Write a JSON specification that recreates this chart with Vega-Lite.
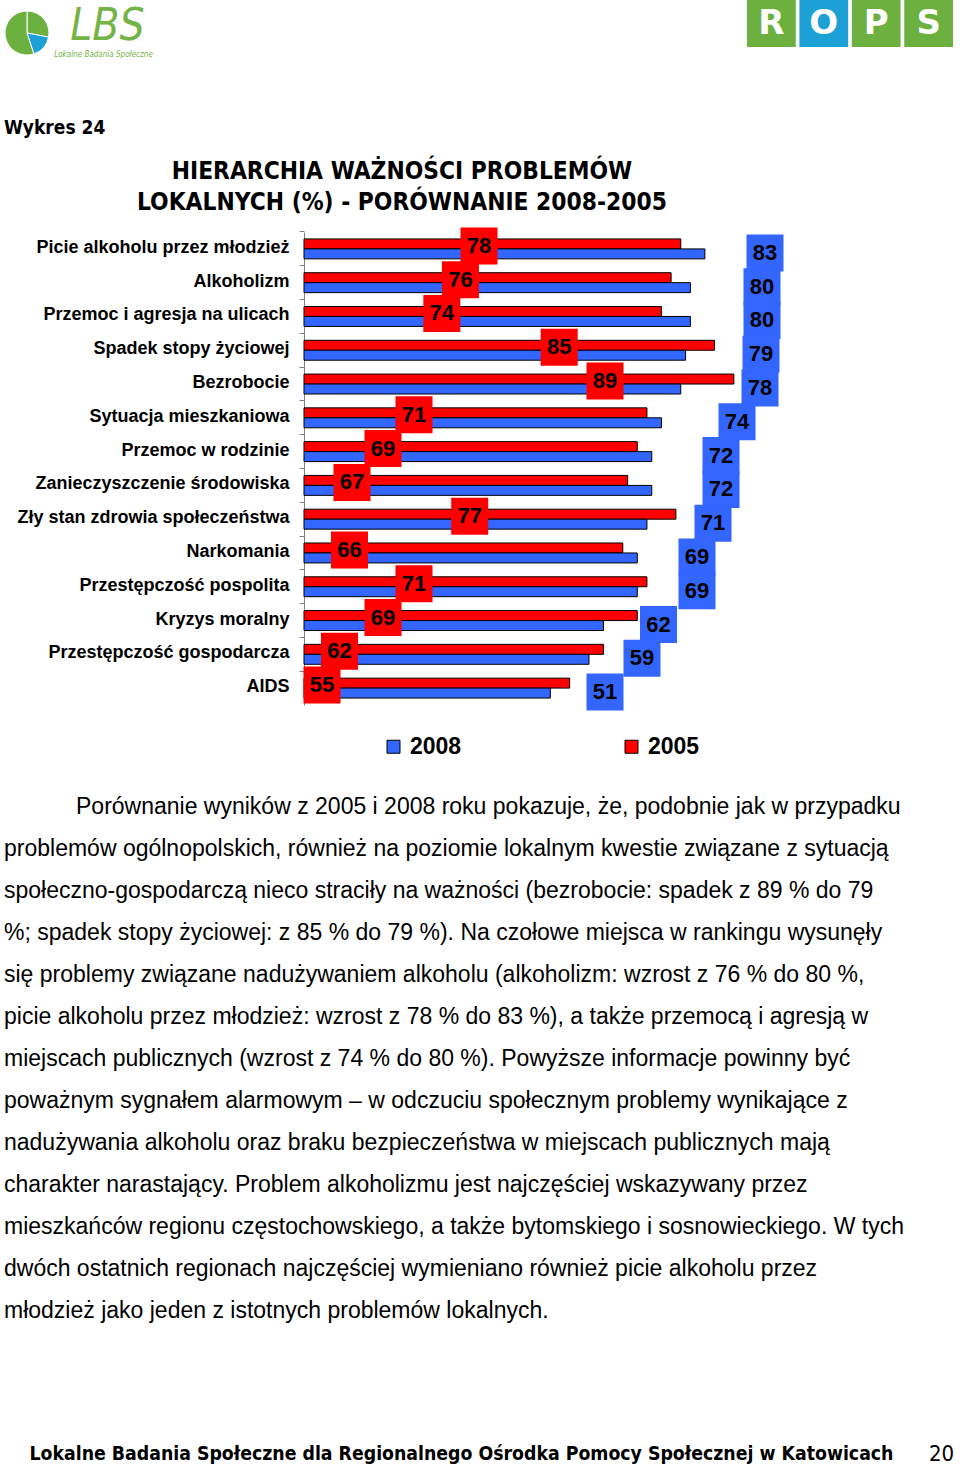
{
  "$schema": "https://vega.github.io/schema/vega-lite/v6.json",
  "padding": 0,
  "background": "white",
  "config": {"view": {"stroke": null}, "font": "Liberation Sans", "title": {"color": "black"}},
  "resolve": {"scale": {"color": "independent"}, "legend": {"color": "independent"}},
  "datasets": {
    "problems": [
      {"problem": "Picie alkoholu przez młodzież", "year": "2005", "value": 78},
      {"problem": "Picie alkoholu przez młodzież", "year": "2008", "value": 83},
      {"problem": "Alkoholizm", "year": "2005", "value": 76},
      {"problem": "Alkoholizm", "year": "2008", "value": 80},
      {"problem": "Przemoc i agresja na ulicach", "year": "2005", "value": 74},
      {"problem": "Przemoc i agresja na ulicach", "year": "2008", "value": 80},
      {"problem": "Spadek stopy życiowej", "year": "2005", "value": 85},
      {"problem": "Spadek stopy życiowej", "year": "2008", "value": 79},
      {"problem": "Bezrobocie", "year": "2005", "value": 89},
      {"problem": "Bezrobocie", "year": "2008", "value": 78},
      {"problem": "Sytuacja mieszkaniowa", "year": "2005", "value": 71},
      {"problem": "Sytuacja mieszkaniowa", "year": "2008", "value": 74},
      {"problem": "Przemoc w rodzinie", "year": "2005", "value": 69},
      {"problem": "Przemoc w rodzinie", "year": "2008", "value": 72},
      {"problem": "Zanieczyszczenie środowiska", "year": "2005", "value": 67},
      {"problem": "Zanieczyszczenie środowiska", "year": "2008", "value": 72},
      {"problem": "Zły stan zdrowia społeczeństwa", "year": "2005", "value": 77},
      {"problem": "Zły stan zdrowia społeczeństwa", "year": "2008", "value": 71},
      {"problem": "Narkomania", "year": "2005", "value": 66},
      {"problem": "Narkomania", "year": "2008", "value": 69},
      {"problem": "Przestępczość pospolita", "year": "2005", "value": 71},
      {"problem": "Przestępczość pospolita", "year": "2008", "value": 69},
      {"problem": "Kryzys moralny", "year": "2005", "value": 69},
      {"problem": "Kryzys moralny", "year": "2008", "value": 62},
      {"problem": "Przestępczość gospodarcza", "year": "2005", "value": 62},
      {"problem": "Przestępczość gospodarcza", "year": "2008", "value": 59},
      {"problem": "AIDS", "year": "2005", "value": 55},
      {"problem": "AIDS", "year": "2008", "value": 51}
    ],
    "para": [
      {"line": 1, "text": "Porównanie wyników z 2005 i 2008 roku pokazuje, że, podobnie jak w przypadku"},
      {"line": 2, "text": "problemów ogólnopolskich, również na poziomie lokalnym kwestie związane z sytuacją"},
      {"line": 3, "text": "społeczno-gospodarczą nieco straciły na ważności (bezrobocie: spadek z 89 % do 79"},
      {"line": 4, "text": "%; spadek stopy życiowej: z 85 % do 79 %). Na czołowe miejsca w rankingu wysunęły"},
      {"line": 5, "text": "się problemy związane nadużywaniem alkoholu (alkoholizm: wzrost z 76 % do 80 %,"},
      {"line": 6, "text": "picie alkoholu przez młodzież: wzrost z 78 % do 83 %), a także przemocą i agresją w"},
      {"line": 7, "text": "miejscach publicznych (wzrost z 74 % do 80 %). Powyższe informacje powinny być"},
      {"line": 8, "text": "poważnym sygnałem alarmowym – w odczuciu społecznym problemy wynikające z"},
      {"line": 9, "text": "nadużywania alkoholu oraz braku bezpieczeństwa w miejscach publicznych mają"},
      {"line": 10, "text": "charakter narastający. Problem alkoholizmu jest najczęściej wskazywany przez"},
      {"line": 11, "text": "mieszkańców regionu częstochowskiego, a także bytomskiego i sosnowieckiego. W tych"},
      {"line": 12, "text": "dwóch ostatnich regionach najczęściej wymieniano również picie alkoholu przez"},
      {"line": 13, "text": "młodzież jako jeden z istotnych problemów lokalnych."}
    ]
  },
  "spacing": 53,
  "vconcat": [
    {
      "spacing": 587,
      "hconcat": [
        {
          "spacing": 0,
          "hconcat": [
            {
              "width": 54, "height": 66,
              "data": {"values": [{"part": "a", "share": 28}, {"part": "b", "share": 17}, {"part": "c", "share": 55}]},
              "mark": {"type": "arc", "outerRadius": 22, "stroke": "white", "strokeWidth": 1},
              "encoding": {
                "theta": {"field": "share", "type": "quantitative", "stack": true},
                "order": {"field": "part"},
                "color": {"field": "part", "type": "nominal", "scale": {"domain": ["a", "b", "c"], "range": ["#6CB040", "#1CA0D6", "#6CB040"]}, "legend": null}
              }
            },
            {
              "width": 105, "height": 60,
              "data": {"values": [{"t": "LBS", "s": "Lokalne Badania Społeczne"}]},
              "layer": [
                {"mark": {"type": "text", "font": "DejaVu Sans Condensed", "fontStyle": "italic", "fontSize": 44, "color": "#74B446", "dy": -3}, "encoding": {"text": {"field": "t"}}},
                {"mark": {"type": "text", "font": "DejaVu Sans Condensed", "fontStyle": "italic", "fontSize": 8, "color": "#74B446", "dy": 25, "dx": -4}, "encoding": {"text": {"field": "s"}}}
              ]
            }
          ]
        },
        {
          "width": 206, "height": 47,
          "data": {"values": [{"l": "R"}, {"l": "O"}, {"l": "P"}, {"l": "S"}]},
          "encoding": {"x": {"field": "l", "type": "nominal", "sort": null, "axis": null, "scale": {"paddingInner": 0.07, "paddingOuter": 0}}},
          "layer": [
            {"mark": {"type": "bar"}, "encoding": {"color": {"field": "l", "type": "nominal", "sort": null, "scale": {"domain": ["R", "O", "P", "S"], "range": ["#F0B400", "#7CB518", "#1B4FDF", "#262626"]}, "legend": null}}},
            {"mark": {"type": "text", "color": "white", "fontSize": 34, "fontWeight": "bold", "font": "DejaVu Sans"}, "encoding": {"text": {"field": "l"}}}
          ]
        }
      ]
    },
    {
      "spacing": 37,
      "resolve": {"scale": {"color": "independent"}, "legend": {"color": "independent"}},
      "vconcat": [
        {
          "title": {"text": "Wykres 24", "anchor": "start", "fontSize": 19, "fontWeight": "bold", "font": "DejaVu Sans Condensed", "dx": 4, "offset": 22},
          "bounds": "flush",
          "spacing": 0,
          "resolve": {"scale": {"color": "independent"}, "legend": {"color": "independent"}},
          "hconcat": [
            {"width": 304, "height": 1, "data": {"values": [{"t": ""}]}, "mark": {"type": "text"}, "encoding": {"text": {"field": "t"}}},
            {
              "width": 483, "height": 473,
              "data": {"name": "problems"},
              "title": {"text": ["HIERARCHIA WAŻNOŚCI PROBLEMÓW", "LOKALNYCH (%) - PORÓWNANIE 2008-2005"], "anchor": "middle", "frame": "bounds", "fontSize": 24.3, "font": "DejaVu Sans Condensed", "fontWeight": "bold", "lineHeight": 31, "offset": 12},
              "encoding": {
                "y": {
                  "field": "problem", "type": "nominal", "sort": null,
                  "scale": {"paddingInner": 0.41, "paddingOuter": 0.205},
                  "axis": {"title": null, "domainColor": "#808080", "tickColor": "#808080", "tickSize": 5, "labelPadding": 10, "labelFontSize": 18, "labelFontWeight": "bold", "labelColor": "black", "labelLimit": 400, "bandPosition": -0.3475, "labelOffset": -1, "labelFont": "Liberation Sans"}
                }
              },
              "layer": [
                {
                  "mark": {"type": "bar", "stroke": "black", "strokeWidth": 1},
                  "encoding": {
                    "x": {"field": "value", "type": "quantitative", "axis": null, "scale": {"domain": [0, 100], "nice": false}},
                    "yOffset": {"field": "year", "type": "nominal", "scale": {"domain": ["2005", "2008"], "paddingInner": 0, "paddingOuter": 0}},
                    "color": {
                      "field": "year", "type": "nominal",
                      "scale": {"domain": ["2008", "2005"], "range": ["#3366FF", "#FF0000"]},
                      "legend": {"title": null, "orient": "none", "legendX": 78, "legendY": 503, "direction": "horizontal", "symbolType": "square", "symbolSize": 169, "symbolStrokeColor": "black", "symbolStrokeWidth": 1, "symbolOpacity": 1, "labelFontSize": 23, "labelFontWeight": "bold", "labelColor": "black", "labelOffset": 5, "columnPadding": 158, "padding": 0}
                    }
                  }
                },
                {
                  "transform": [{"filter": "datum.year === '2005'"}],
                  "encoding": {"x": {"field": "value", "type": "quantitative", "axis": null, "scale": {"domain": [55, 67, 71, 78, 89], "range": [18, 48, 110, 175, 301], "nice": false, "zero": false}}},
                  "layer": [
                    {"mark": {"type": "square", "filled": true, "size": 1370, "color": "#FF0000", "opacity": 1, "yOffset": -3}},
                    {"mark": {"type": "text", "fontSize": 22, "fontWeight": "bold", "color": "black", "yOffset": -3}, "encoding": {"text": {"field": "value"}}}
                  ]
                },
                {
                  "transform": [{"filter": "datum.year === '2008'"}],
                  "encoding": {"x": {"field": "value", "type": "quantitative", "axis": null, "scale": {"domain": [51, 59, 69, 74, 78, 83], "range": [301, 338, 393, 433, 456, 461], "nice": false, "zero": false}}},
                  "layer": [
                    {"mark": {"type": "square", "filled": true, "size": 1370, "color": "#3366FF", "opacity": 1, "yOffset": 4}},
                    {"mark": {"type": "text", "fontSize": 22, "fontWeight": "bold", "color": "black", "yOffset": 4}, "encoding": {"text": {"field": "value"}}}
                  ]
                }
              ],
              "resolve": {"scale": {"x": "independent"}}
            }
          ]
        },
        {
          "spacing": 120,
          "vconcat": [
            {
              "width": 8, "height": 504,
              "data": {"name": "para"},
              "encoding": {
                "y": {"field": "line", "type": "ordinal", "scale": {"type": "point", "padding": 0}, "axis": null},
                "text": {"field": "text"}
              },
              "layer": [
                {"transform": [{"filter": "datum.line === 1"}], "mark": {"type": "text", "align": "left", "baseline": "middle", "fontSize": 23, "font": "Liberation Sans", "color": "black", "dx": 72}},
                {"transform": [{"filter": "datum.line !== 1"}], "mark": {"type": "text", "align": "left", "baseline": "middle", "fontSize": 23, "font": "Liberation Sans", "color": "black"}}
              ]
            },
            {
              "spacing": 0,
              "hconcat": [
                {"width": 923, "height": 20, "data": {"values": [{"t": "Lokalne Badania Społeczne dla Regionalnego Ośrodka Pomocy Społecznej w Katowicach"}]}, "mark": {"type": "text", "fontSize": 19.3, "fontWeight": "bold", "font": "DejaVu Sans Condensed", "color": "black"}, "encoding": {"text": {"field": "t"}}},
                {"width": 37, "height": 20, "data": {"values": [{"t": "20"}]}, "mark": {"type": "text", "fontSize": 22, "font": "DejaVu Sans Condensed", "color": "black"}, "encoding": {"text": {"field": "t"}}}
              ]
            }
          ]
        }
      ]
    }
  ]
}
